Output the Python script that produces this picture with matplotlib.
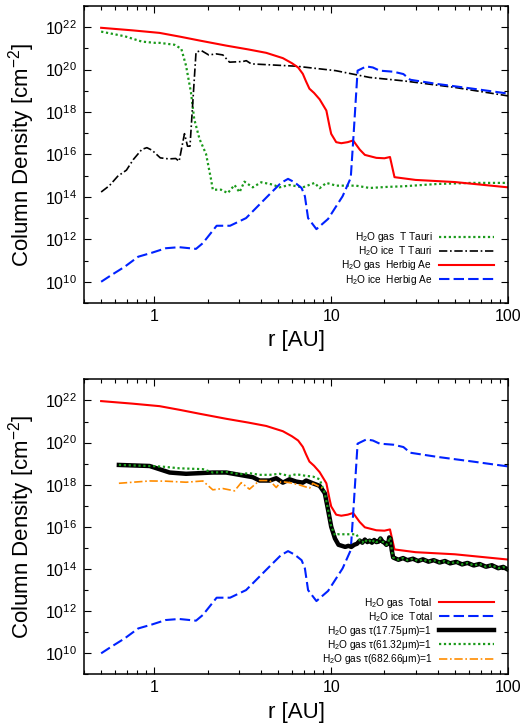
import matplotlib
matplotlib.use("Agg")
import matplotlib.pyplot as plt
import numpy as np
from matplotlib.ticker import FixedLocator, NullFormatter, LogLocator

plt.rcParams['font.family'] = ['Liberation Sans', 'DejaVu Sans']
plt.rcParams['mathtext.fontset'] = 'custom'
plt.rcParams['mathtext.rm'] = 'Liberation Sans'
plt.rcParams['mathtext.it'] = 'Liberation Sans:italic'
plt.rcParams['mathtext.default'] = 'regular'

# ---- column densities, log10 N [cm^-2] vs r [AU] ----
# T Tauri disk, gas
tt_gas_r = [0.5, 0.68, 0.85, 1.01, 1.07, 1.30, 1.42, 1.51, 1.61, 1.68, 1.80, 1.96, 2.09, 2.14,
            2.38, 2.60, 2.84, 3.03, 3.23, 3.60, 4.02, 4.67, 5.10, 5.81, 6.91, 8.06, 8.60, 9.39,
            10.67, 13.8, 16.5, 20.6, 25.6, 40.0, 62.0, 100.0]
tt_gas_n = [21.79, 21.57, 21.32, 21.26, 21.26, 21.17, 20.98, 20.19, 18.93, 17.67, 16.73, 16.02, 14.84, 14.34,
            14.34, 14.18, 14.56, 14.22, 14.72, 14.45, 14.69, 14.58, 14.45, 14.56, 14.45, 14.66, 14.41, 14.66,
            14.53, 14.53, 14.42, 14.47, 14.5, 14.61, 14.66, 14.66]

# T Tauri disk, ice
tt_ice_r = [0.5, 0.557, 0.62, 0.695, 0.76, 0.85, 0.907, 0.97, 1.08, 1.21, 1.32, 1.38, 1.48, 1.54,
            1.59, 1.72, 1.84, 2.03, 2.24, 2.44, 2.66, 3.16, 3.31, 3.53, 6.34, 10.6, 16.5, 25.6,
            50.0, 100.0]
tt_ice_n = [14.23, 14.53, 14.97, 15.26, 15.76, 16.24, 16.32, 16.2, 15.84, 15.79, 15.81, 15.68, 16.98, 16.39,
            16.39, 20.82, 20.9, 20.69, 20.74, 20.69, 20.35, 20.38, 20.42, 20.27, 20.16, 19.95, 19.63, 19.47,
            19.16, 18.76]

# Herbig Ae disk, gas (total)
hae_gas_r = [0.5, 0.75, 1.07, 1.4, 1.8, 2.55, 3.4, 4.29, 5.33, 6.0, 6.5, 6.91, 7.2, 7.53, 8.0, 8.6,
             9.39, 9.8, 10.0, 10.67, 11.4, 12.4, 13.3, 14.5, 15.5, 18.0, 20.0, 21.5, 22.8, 30.0,
             50.0, 100.0]
hae_gas_n = [21.97, 21.85, 21.73, 21.55, 21.37, 21.13, 20.95, 20.79, 20.54, 20.3, 20.1, 19.8, 19.45, 19.1,
             18.9, 18.6, 18.07, 17.3, 16.97, 16.58, 16.53, 16.58, 16.66, 16.23, 15.98, 15.84, 15.82, 15.88,
             14.93, 14.8, 14.7, 14.45]

# Herbig Ae disk, ice (total)
hae_ice_r = [0.5, 0.57, 0.68, 0.81, 0.97, 1.16, 1.38, 1.72, 1.88, 2.25, 2.68, 3.3, 4.37, 5.2, 5.7,
             6.2, 6.8, 7.1, 7.4, 8.25, 9.6, 11.6, 12.9, 13.4, 14.1, 15.8, 17.2, 18.8, 22.5, 25.6,
             28.0, 40.0, 62.0, 100.0]
hae_ice_n = [10.0, 10.31, 10.71, 11.18, 11.37, 11.58, 11.63, 11.55, 11.82, 12.64, 12.64, 13.0, 14.03, 14.66,
             14.85, 14.69, 14.42, 14.03, 13.0, 12.48, 12.96, 14.03, 14.9, 17.0, 19.95, 20.15, 20.1, 19.95,
             19.9, 19.79, 19.52, 19.32, 19.11, 18.87]

# Herbig Ae, gas above the tau=1 surface at 17.75 um
tau17_r = [0.63, 0.94, 1.22, 1.51, 2.14, 2.55, 3.03, 3.6, 3.93, 4.49, 4.89, 5.33, 5.81, 6.34, 6.91,
           7.22, 7.87, 8.6, 9.2, 9.6, 10.0, 10.5, 11.0, 11.5, 12.0, 12.5, 13.0, 13.5, 14.0, 14.5]
tau17_n = [18.94, 18.89, 18.58, 18.52, 18.58, 18.58, 18.47, 18.36, 18.2, 18.2, 18.31, 18.1, 18.26, 18.15, 18.1,
           18.2, 18.07, 17.95, 17.6, 16.81, 16.01, 15.45, 15.15, 15.1, 15.05, 15.1, 15.05, 15.15, 15.2, 15.35]
# outer part, shared by the 17.75 um and 61.32 um surfaces
outer_r = [15.0, 15.5, 16.0, 16.5, 17.0, 17.5, 18.0, 18.5, 19.0, 19.5, 20.0, 20.5, 21.0, 21.3, 21.6,
           22.0, 22.4, 22.8, 24.0, 25.5, 27.0, 29.0, 31.0, 33.0, 35.5, 38.0, 41.0, 44.0, 47.0, 51.0,
           55.0, 59.0, 64.0, 69.0, 75.0, 81.0, 88.0, 94.0, 100.0]
outer_n = [15.25, 15.4, 15.28, 15.35, 15.25, 15.38, 15.28, 15.3, 15.45, 15.3, 15.25, 15.15, 15.2, 15.5, 15.45,
           14.9, 14.55, 14.52, 14.44, 14.52, 14.42, 14.49, 14.38, 14.46, 14.35, 14.42, 14.31, 14.38, 14.27, 14.34,
           14.22, 14.29, 14.17, 14.24, 14.11, 14.18, 14.04, 14.1, 13.97]

# tau=1 surface at 61.32 um (inner part)
tau61_r = [0.63, 0.94, 1.11, 1.39, 1.88, 2.14, 2.55, 3.03, 3.45, 3.93, 4.49, 5.1, 5.81, 6.34, 7.22,
           7.87, 8.6, 9.2, 9.6, 10.0, 10.5, 10.9, 13.9, 14.5]
tau61_n = [18.94, 18.89, 18.86, 18.78, 18.74, 18.58, 18.61, 18.5, 18.55, 18.47, 18.47, 18.52, 18.42, 18.5, 18.42,
           18.39, 18.26, 17.6, 16.81, 16.01, 15.6, 15.65, 15.65, 15.35]

# tau=1 surface at 682.66 um
tau682_r = [0.63, 0.94, 1.16, 1.51, 1.88, 2.14, 2.44, 2.84, 3.1, 3.45, 3.93, 4.49, 4.89, 5.2, 5.81,
            6.62, 7.55, 7.87, 8.6, 8.9]
tau682_n = [18.07, 18.18, 18.17, 18.12, 18.18, 17.76, 17.82, 17.71, 18.1, 17.79, 18.2, 18.2, 17.87, 18.15, 18.1,
            17.99, 17.84, 18.07, 17.91, 17.84]

x_ticks = [1, 10, 100]
y_exps = list(range(10, 23, 2))

GREEN = '#1a9a1a'
BLUE = '#0022ff'
RED = '#ff0000'
ORANGE = '#ff8c00'


def N(v):
    return 10.0 ** np.asarray(v)


def style_axes(ax):
    ax.set_xscale('log')
    ax.set_yscale('log')
    ax.set_xlim(0.4, 100)
    ax.set_ylim(1e9, 1e23)
    ax.xaxis.set_major_locator(FixedLocator(x_ticks))
    ax.set_xticklabels([str(t) for t in x_ticks])
    ax.xaxis.set_minor_locator(LogLocator(base=10, subs=np.arange(2, 10)))
    ax.xaxis.set_minor_formatter(NullFormatter())
    ax.set_yticks([10.0 ** e for e in y_exps])
    ax.set_yticklabels([r'$10^{%d}$' % e for e in y_exps])
    ax.set_yticks([10.0 ** e for e in range(9, 24, 2)], minor=True)
    ax.yaxis.set_minor_formatter(NullFormatter())
    ax.tick_params(which='both', direction='in', top=True, right=True, width=0.8)
    ax.tick_params(which='major', length=5, labelsize=11.5)
    ax.tick_params(axis='x', which='major', pad=4)
    ax.tick_params(axis='y', which='major', pad=5)
    ax.tick_params(which='minor', length=3)
    for s in ax.spines.values():
        s.set_linewidth(1.1)
    ax.set_xlabel('r [AU]', fontsize=16, labelpad=5)
    ax.set_ylabel(r'Column Density [cm$^{-2}$]', fontsize=16)
    ax.yaxis.set_label_coords(-0.112, 0.5)


fig = plt.figure(figsize=(5.27, 7.25), dpi=100)
ax1 = fig.add_axes([0.1594, 0.5821, 0.8046, 0.4097])
ax2 = fig.add_axes([0.1594, 0.0698, 0.8046, 0.4069])

dot = (0, (1, 1.2))
dashdot = (0, (5, 1.6, 1, 1.6))
dash = (0, (5, 2))

# upper panel: T Tauri vs Herbig Ae
ax1.plot(tt_gas_r, N(tt_gas_n), color=GREEN, lw=1.6, ls=dot, label=r'H$_2$O gas  T Tauri')
ax1.plot(tt_ice_r, N(tt_ice_n), color='black', lw=1.2, ls=dashdot, label=r'H$_2$O ice  T Tauri')
ax1.plot(hae_gas_r, N(hae_gas_n), color=RED, lw=1.5, label=r'H$_2$O gas  Herbig Ae')
ax1.plot(hae_ice_r, N(hae_ice_n), color=BLUE, lw=1.5, ls=dash, label=r'H$_2$O ice  Herbig Ae')

# lower panel: Herbig Ae totals and tau=1 surfaces
t17_r = np.concatenate([tau17_r, outer_r])
t17_n = np.concatenate([tau17_n, outer_n])
t61_r = np.concatenate([tau61_r, outer_r])
t61_n = np.concatenate([tau61_n, outer_n])
ax2.plot(hae_gas_r, N(hae_gas_n), color=RED, lw=1.5, label=r'H$_2$O gas  Total')
ax2.plot(hae_ice_r, N(hae_ice_n), color=BLUE, lw=1.5, ls=dash, label=r'H$_2$O ice  Total')
ax2.plot(t17_r, N(t17_n), color='black', lw=3.2, label=r'H$_2$O gas τ(17.75μm)=1')
ax2.plot(t61_r, N(t61_n), color=GREEN, lw=1.6, ls=dot, label=r'H$_2$O gas τ(61.32μm)=1')
ax2.plot(tau682_r, N(tau682_n), color=ORANGE, lw=1.2, ls=dashdot, label=r'H$_2$O gas τ(682.66μm)=1')

for ax, ybox in ((ax1, 0.055), (ax2, 0.028)):
    style_axes(ax)
    ax.legend(loc='lower right', bbox_to_anchor=(0.966, ybox), frameon=False,
              markerfirst=False, fontsize=7.3, handlelength=5.4, handletextpad=0.65,
              labelspacing=0.02, borderpad=0, borderaxespad=0)

fig.savefig('out.png', dpi=100)
